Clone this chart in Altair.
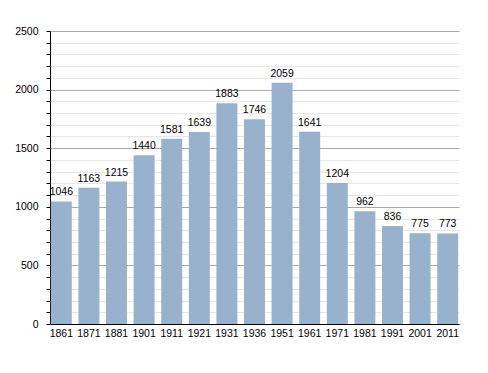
import altair as alt
import pandas as pd

years = ["1861", "1871", "1881", "1901", "1911", "1921", "1931", "1936",
         "1951", "1961", "1971", "1981", "1991", "2001", "2011"]
population = [1046, 1163, 1215, 1440, 1581, 1639, 1883, 1746,
              2059, 1641, 1204, 962, 836, 775, 773]
y_ticks = list(range(0, 2501, 100))

df = pd.DataFrame({"year": years, "pop": population})

FONT = "Liberation Sans"
FS = 10.5

x_enc = alt.X("year:N", sort=years, title=None,
              scale=alt.Scale(paddingInner=0.24, paddingOuter=0.03),
              axis=alt.Axis(labelAngle=0, ticks=False, domainColor="#000000",
                            labelColor="#000000", labelFontSize=FS, labelFont=FONT,
                            labelPadding=4, grid=False))

y_enc = alt.Y("pop:Q", title=None,
              scale=alt.Scale(domain=[0, 2500], nice=False),
              axis=alt.Axis(values=y_ticks,
                            tickCount=40,
                            labelExpr="datum.value % 500 === 0 ? datum.label : ''",
                            labelOverlap=False,
                            format="d",
                            grid=True,
                            gridColor={"condition": {"test": "datum.value % 500 === 0", "value": "#a8a8a8"},
                                       "value": "#e6e6e6"},
                            gridWidth=1,
                            tickColor="#000000", tickSize=4,
                            domainColor="#000000",
                            labelColor="#000000", labelFontSize=FS, labelFont=FONT,
                            labelPadding=8))

bars = alt.Chart(df).mark_bar(color="#98b1cd").encode(x=x_enc, y=y_enc)

labels = alt.Chart(df).mark_text(dy=-9, fontSize=FS, font=FONT, color="#000000").encode(
    x=alt.X("year:N", sort=years),
    y=alt.Y("pop:Q"),
    text=alt.Text("pop:Q", format="d"),
)

chart = alt.layer(bars, labels).properties(
    width=409, height=293,
    background="#ffffff",
    autosize=alt.AutoSizeParams(type="none"),
    padding={"left": 42, "top": 23, "right": 21, "bottom": 41},
).configure_view(stroke=None)

chart.save("out.html", embed_options={"renderer": "svg", "actions": False})
